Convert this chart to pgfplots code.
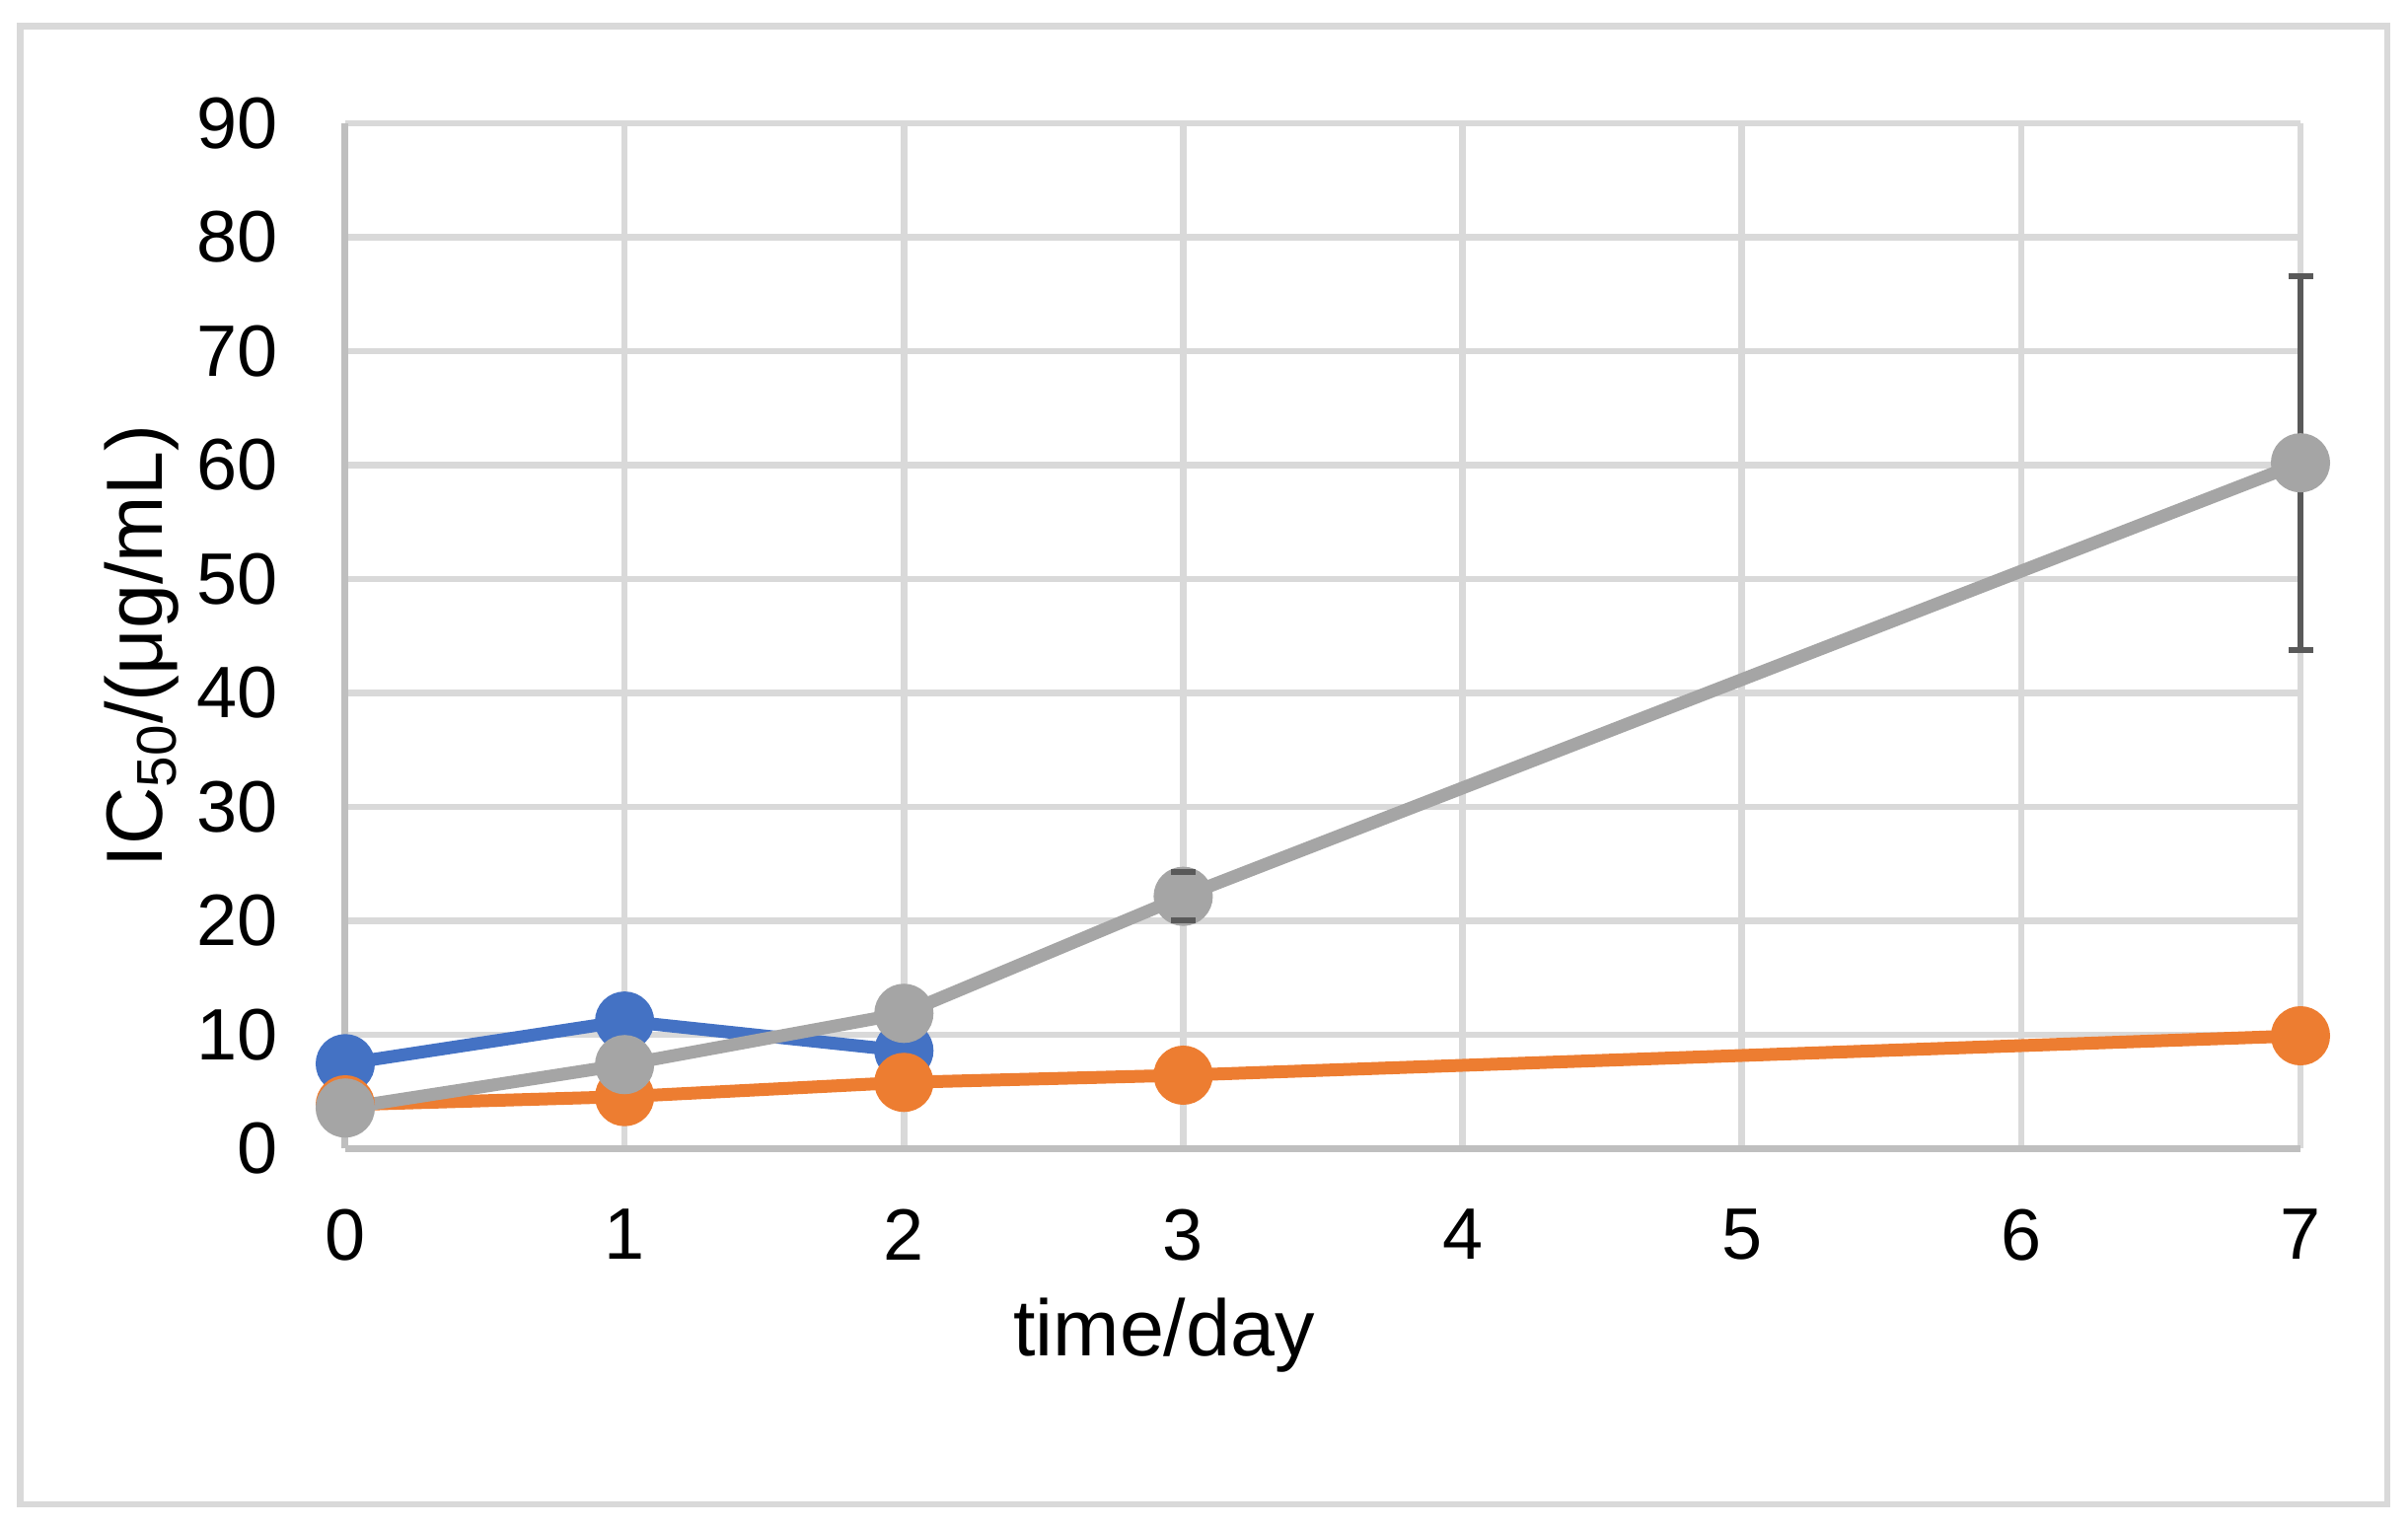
\documentclass[border=0pt]{standalone}
\usepackage{pgfplots}
\pgfplotsset{compat=1.18}
\usepackage{fontspec}
\setmainfont{Liberation Sans}
\definecolor{cblue}{HTML}{4472C4}
\definecolor{corange}{HTML}{ED7D31}
\definecolor{cgray}{HTML}{A5A5A5}
\definecolor{cgrid}{HTML}{D9D9D9}
\definecolor{caxis}{HTML}{BFBFBF}
\definecolor{cerr}{HTML}{595959}
\begin{document}
\begin{tikzpicture}
\path[use as bounding box] (-35mm,-38.35mm) rectangle (209.1mm,116.45mm);
\draw[cgrid, line width=0.65mm] (-32.93mm,-36.05mm) rectangle (207mm,113.8mm);
\begin{axis}[
  at={(0,0)}, anchor=origin,
  scale only axis, width=198.2mm, height=103.95mm,
  xmin=0, xmax=7, ymin=0, ymax=90,
  enlargelimits=false, clip=false,
  axis x line*=bottom, axis y line*=left,
  x axis line style={-, draw=caxis, line width=0.7mm},
  y axis line style={-, draw=caxis, line width=0.7mm},
  xtick={0,1,2,3,4,5,6,7}, ytick={0,10,20,30,40,50,60,70,80,90},
  major tick length=0pt,
  grid=major,
  major grid style={draw=cgrid, line width=0.65mm},
  /pgf/number format/assume math mode=true,
  ticklabel style={font=\fontsize{21}{24}\selectfont, inner sep=0pt},
  xticklabel style={anchor=north, yshift=-6.05mm},
  yticklabel style={anchor=east, xshift=-6.8mm},
]
\addplot[color=cblue, line width=1.3mm, mark=*, mark size=2.35mm, mark options={draw=none, fill=cblue}] coordinates {
  (0,7.46) (1,11.2) (2,8.6)
};
\addplot[color=corange, line width=1.3mm, mark=*, mark size=2.35mm, mark options={draw=none, fill=corange}] coordinates {
  (0,3.85) (1,4.57) (2,5.82) (3,6.45) (7,9.91)
};
\addplot[color=cgray, line width=1.3mm, mark=*, mark size=2.35mm, mark options={draw=none, fill=cgray},
  error bars/.cd, y dir=both, y explicit,
  error bar style={draw=cerr, line width=0.6mm},
  error mark options={draw=cerr, line width=0.6mm, mark size=1.25mm, rotate=90}]
  coordinates {
  (0,3.57) +- (0,0)
  (1,7.38) +- (0,0)
  (2,11.88) +- (0,0)
  (3,22.15) +- (0,2.1)
  (7,60.2) +- (0,16.4)
};
% caps of the day-3 error bar (22.15 +- 2.1), visible over the marker
\addplot[only marks, forget plot, mark=-, mark size=1.25mm, mark options={draw=cerr, line width=0.6mm}]
  coordinates {(3,24.25) (3,20.05)};
\end{axis}
\node[anchor=base, font=\fontsize{23}{27}\selectfont] at (83mm,-21.05mm) {time/day};
\node[rotate=90, anchor=base, font=\fontsize{23}{27}\selectfont] at (-18.5mm,50.95mm) {IC\textsubscript{50}/(μg/mL)};
\end{tikzpicture}
\end{document}
